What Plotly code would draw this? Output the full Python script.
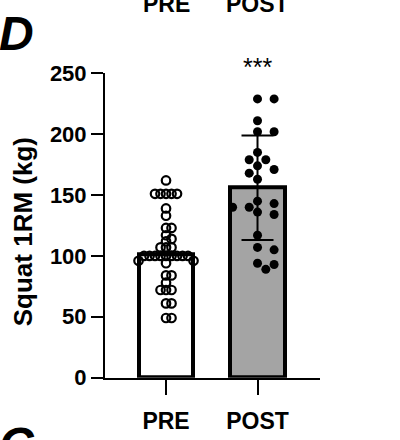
import plotly.graph_objects as go

# ---------------- data ----------------
groups = ["PRE", "POST"]
pre_values = [162, 151, 151, 151, 151, 151, 139, 133, 123, 123, 117, 114, 112,
              107, 107, 107, 100, 100, 100, 100, 100, 100, 100, 100, 100, 96, 96, 94,
              84, 84, 78, 72, 72, 72, 61, 61, 49, 49]
post_values = [229, 229, 211, 202, 202, 185, 179, 179, 174, 171, 168, 163,
               145, 143, 140, 140, 136, 134, 117, 107, 105, 94, 93, 89]
bar_means = [101, 156]
bar_sds = [0, 43]          # PRE error bar is not visible in the picture
y_ticks = [0, 50, 100, 150, 200, 250]
y_title = "Squat 1RM (kg)"
significance = "***"
panel_letter = "D"
next_panel_letter = "C"

# ---------------- layout constants ----------------
W, H = 400, 440
X0_PX, X1_PX = 105, 320          # x-axis domain in px
Y0_PX, Y1_PX = 387.7, 65         # y-axis domain in px (bottom, top)
X_RANGE = [-0.667, 1.683]
Y_RANGE = [0, 250]
PX_PER_X = (X1_PX - X0_PX) / (X_RANGE[1] - X_RANGE[0])
PX_PER_Y = (Y0_PX - Y1_PX) / (Y_RANGE[1] - Y_RANGE[0])
FONT = "Arial, Liberation Sans, sans-serif"


def swarm(vals, step_px, min_px):
    """Simple beeswarm: horizontal offsets (in x data units)."""
    placed = []
    offs = [0.0] * len(vals)
    order = sorted(range(len(vals)), key=lambda i: -vals[i])
    ks = [0]
    for k in range(1, 10):
        ks += [k, -k]
    for i in order:
        ypx = vals[i] * PX_PER_Y
        xpx = 0
        for k in ks:
            xpx = k * step_px
            if all((xpx - px) ** 2 + (ypx - py) ** 2 >= min_px ** 2 for px, py in placed):
                break
        placed.append((xpx, ypx))
        offs[i] = xpx / PX_PER_X
    return offs


pre_off = swarm(pre_values, 5.5, 5.5)
post_off = swarm(post_values, 8.3, 9.5)

fig = go.Figure()

fig.add_trace(go.Bar(
    x=[0, 1], y=bar_means, width=0.6,
    marker=dict(color=["white", "#a4a4a4"], line=dict(color="black", width=4)),
    error_y=dict(type="data", array=bar_sds, visible=True, color="black",
                 thickness=2, width=16),
    showlegend=False, hoverinfo="skip",
))

fig.add_trace(go.Scatter(
    x=[0 + o for o in pre_off], y=pre_values, mode="markers",
    marker=dict(symbol="circle-open", size=8.5, color="black", line=dict(width=2.2)),
    showlegend=False, hoverinfo="skip", cliponaxis=False,
))
fig.add_trace(go.Scatter(
    x=[1 + o for o in post_off], y=post_values, mode="markers",
    marker=dict(symbol="circle", size=9, color="black", line=dict(width=0)),
    showlegend=False, hoverinfo="skip", cliponaxis=False,
))

fig.update_layout(
    width=W, height=H, margin=dict(l=0, r=0, t=0, b=0),
    paper_bgcolor="white", plot_bgcolor="white",
    font=dict(family=FONT, color="black"),
    bargap=0,
    xaxis=dict(
        domain=[X0_PX / W, X1_PX / W], range=X_RANGE,
        tickmode="array", tickvals=[0, 1], ticktext=groups,
        ticks="outside", ticklen=15, tickwidth=2, tickcolor="black",
        ticklabelstandoff=7,
        showline=True, linewidth=2, linecolor="black",
        showgrid=False, zeroline=False,
        tickfont=dict(family=FONT, size=23, weight="bold", color="black"),
    ),
    yaxis=dict(
        domain=[1 - Y0_PX / H, 1 - Y1_PX / H], range=Y_RANGE,
        tickmode="array", tickvals=y_ticks,
        ticks="outside", ticklen=12, tickwidth=2, tickcolor="black",
        showline=True, linewidth=2, linecolor="black",
        showgrid=False, zeroline=False,
        tickfont=dict(family=FONT, size=22, weight="bold", color="black"),
    ),
)

annotations = [
    dict(text=y_title, x=22.5 / W, y=1 - 233 / H, xref="paper", yref="paper",
         textangle=-90, showarrow=False, xanchor="center", yanchor="middle",
         font=dict(family=FONT, size=26, weight="bold", color="black")),
    dict(text=significance, x=1, xref="x", y=1 - 58 / H, yref="paper",
         showarrow=False, xanchor="center", yanchor="middle",
         font=dict(family=FONT, size=25, color="black")),
    dict(text=panel_letter, x=-3 / W, y=1 - 23 / H, xref="paper", yref="paper",
         showarrow=False, xanchor="left", yanchor="middle",
         font=dict(family=FONT, size=48, weight="bold", style="italic", color="black")),
    dict(text=next_panel_letter, x=-3 / W, y=1 - 459 / H, xref="paper", yref="paper",
         showarrow=False, xanchor="left", yanchor="middle",
         font=dict(family=FONT, size=48, weight="bold", style="italic", color="black")),
]
for xv, label in zip([0, 1], groups):
    annotations.append(dict(
        text=label, x=xv, xref="x", y=1 + 8 / H, yref="paper",
        showarrow=False, xanchor="center", yanchor="middle",
        font=dict(family=FONT, size=23, weight="bold", color="black")))
fig.update_layout(annotations=annotations)

fig.write_html("out.html")
